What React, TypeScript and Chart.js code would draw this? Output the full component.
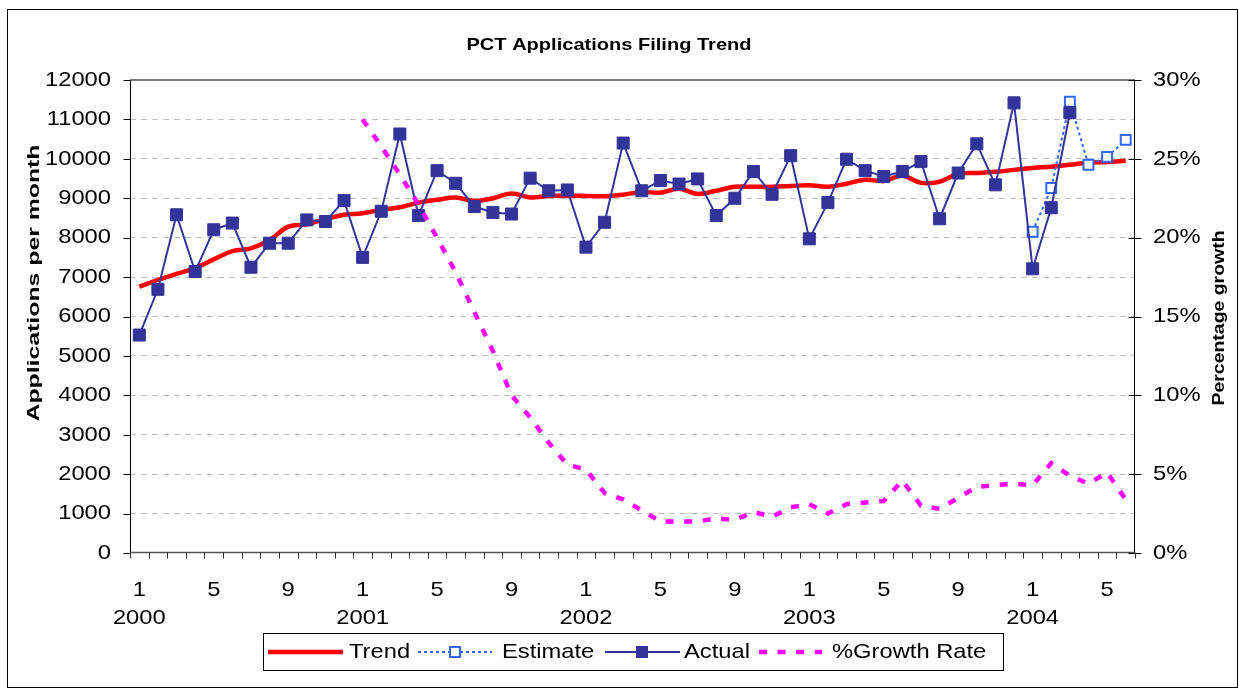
import React, { useEffect, useRef } from 'react';
import { Chart, registerables } from 'chart.js';

Chart.register(...registerables);

const W = 1239;
const H = 689;

const years = ['2000', '2001', '2002', '2003', '2004'];
const categories: string[] = [];
for (let y = 0; y < years.length; y++) {
  for (let m = 1; m <= 12; m++) {
    if (categories.length < 54) categories.push(`${years[y]}-${m}`);
  }
}

const trend = [
  6760, 6930, 7080, 7230, 7450, 7660, 7730, 7940, 8280, 8340, 8470, 8580,
  8620, 8710, 8770, 8890, 8960, 9020, 8930, 9000, 9120, 9020, 9060, 9060,
  9060, 9050, 9090, 9160, 9140, 9240, 9110, 9190, 9290, 9290, 9290, 9310,
  9330, 9290, 9370, 9470, 9440, 9570, 9390, 9420, 9620, 9640, 9670, 9720,
  9770, 9800, 9850, 9900, 9920, 9950,
];

const actual: (number | null)[] = [
  5530, 6690, 8580, 7140, 8200, 8370, 7250, 7860, 7860, 8450, 8410, 8940,
  7500, 8670, 10630, 8560, 9700, 9380, 8790, 8640, 8600, 9510, 9190, 9210,
  7760, 8390, 10400, 9190, 9450, 9360, 9490, 8560, 9000, 9680, 9100, 10080,
  7970, 8890, 9990, 9700, 9550, 9680, 9930, 8480, 9640, 10380, 9340, 11420,
  7210, 8760, 11170, null, null, null,
];

const estimate: (number | null)[] = [
  ...Array(48).fill(null),
  8150, 9260, 11450, 9850, 10050, 10480,
];

const growth: (number | null)[] = [
  ...Array(12).fill(null),
  27.5, 25.8, 24.0, 22.1, 20.0, 17.8, 15.3, 12.8, 10.0, 8.6, 7.0, 5.6,
  5.3, 3.8, 3.4, 2.7, 2.0, 2.0, 2.0, 2.2, 2.1, 2.6, 2.3, 2.9,
  3.1, 2.5, 3.1, 3.2, 3.3, 4.6, 3.0, 2.8, 3.5, 4.2, 4.3, 4.4,
  4.3, 5.7, 4.9, 4.4, 5.1, 3.4,
];

const leftTicks = [0, 1000, 2000, 3000, 4000, 5000, 6000, 7000, 8000, 9000, 10000, 11000, 12000];
const rightTicks = [0, 5, 10, 15, 20, 25, 30];
const shownMonths = [1, 5, 9];

const TITLE = 'PCT Applications Filing Trend';
const Y_TITLE = 'Applications per month';
const Y1_TITLE = 'Percentage growth';
const legendItems = ['Trend', 'Estimate', 'Actual', '%Growth Rate'];

const FONT = '"Liberation Sans", Arial, sans-serif';
const C_TREND = '#ff0000';
const C_EST = '#3366ff';
const C_ACT = '#333399';
const C_GROW = '#ff00ff';

function drawText(
  ctx: CanvasRenderingContext2D,
  s: string,
  x: number,
  y: number,
  font: string,
  sx: number,
  align: CanvasTextAlign,
  rot = 0,
) {
  ctx.save();
  ctx.translate(x, y);
  if (rot) ctx.rotate(rot);
  ctx.scale(sx, 1);
  ctx.font = font;
  ctx.textAlign = align;
  ctx.textBaseline = 'middle';
  ctx.fillStyle = '#000';
  ctx.fillText(s, 0, 0);
  ctx.restore();
}

function fitScale(ctx: CanvasRenderingContext2D, s: string, font: string, target: number) {
  ctx.save();
  ctx.font = font;
  const w = ctx.measureText(s).width;
  ctx.restore();
  return w > 0 ? target / w : 1;
}

function seg(ctx: CanvasRenderingContext2D, x1: number, y1: number, x2: number, y2: number) {
  ctx.beginPath();
  ctx.moveTo(x1, y1);
  ctx.lineTo(x2, y2);
  ctx.stroke();
}

const decorPlugin = {
  id: 'decor',
  afterDraw(chart: any) {
    const ctx: CanvasRenderingContext2D = chart.ctx;
    const { left, right, top, bottom } = chart.chartArea;
    const xs = chart.scales.x;
    const ys = chart.scales.y;
    const yr = chart.scales.y1;
    const L = Math.round(left) + 0.5;
    const R = Math.round(right) - 0.5;
    const B = Math.round(bottom) - 0.5;
    ctx.save();

    // outer frame
    ctx.strokeStyle = '#000';
    ctx.lineWidth = 1;
    ctx.strokeRect(7.5, 9.5, 1230, 678);

    // plot top border
    ctx.strokeStyle = '#808080';
    ctx.lineWidth = 2;
    seg(ctx, left, Math.round(top), right, Math.round(top));

    // axes
    ctx.strokeStyle = '#000';
    ctx.lineWidth = 1;
    seg(ctx, L, top, L, bottom);
    seg(ctx, R, top, R, bottom);
    ctx.strokeStyle = '#555';
    ctx.lineWidth = 1.5;
    seg(ctx, left, B, right, B);

    // tick marks
    ctx.strokeStyle = '#000';
    ctx.lineWidth = 1;
    leftTicks.forEach((v) => {
      const y = Math.round(ys.getPixelForValue(v)) + 0.5;
      seg(ctx, L - 7, y, L, y);
    });
    rightTicks.forEach((v) => {
      const y = Math.round(yr.getPixelForValue(v)) + 0.5;
      seg(ctx, R - 6, y, R + 7, y);
    });
    const step = xs.getPixelForValue(1) - xs.getPixelForValue(0);
    ctx.strokeStyle = '#333';
    for (let k = 0; k <= categories.length; k++) {
      const x = Math.round(xs.getPixelForValue(k) - step / 2) + 0.5;
      seg(ctx, x, B, x, B + 6);
    }

    // tick labels
    const tf = `21px ${FONT}`;
    const tsx = 1.13;
    leftTicks.forEach((v) => {
      drawText(ctx, String(v), 111, ys.getPixelForValue(v), tf, tsx, 'right');
    });
    rightTicks.forEach((v) => {
      drawText(ctx, `${v}%`, 1153, yr.getPixelForValue(v), tf, tsx, 'left');
    });
    categories.forEach((c, i) => {
      const [yy, mm] = c.split('-');
      const m = Number(mm);
      const x = xs.getPixelForValue(i);
      if (shownMonths.includes(m)) drawText(ctx, String(m), x, 590, tf, tsx, 'center');
      if (m === 1) drawText(ctx, yy, x, 618, tf, tsx, 'center');
    });

    // title
    const titleFont = `bold 17px ${FONT}`;
    drawText(ctx, TITLE, 609, 45, titleFont, fitScale(ctx, TITLE, titleFont, 285), 'center');

    // axis titles
    const atFont = `bold 16px ${FONT}`;
    drawText(ctx, Y_TITLE, 35, 283, atFont, fitScale(ctx, Y_TITLE, atFont, 277), 'center', -Math.PI / 2);
    drawText(ctx, Y1_TITLE, 1220, 318, atFont, fitScale(ctx, Y1_TITLE, atFont, 175), 'center', -Math.PI / 2);

    // legend
    ctx.strokeStyle = '#000';
    ctx.lineWidth = 1;
    ctx.strokeRect(263.5, 633.5, 740, 37);
    const ly = 652;
    // Trend
    ctx.strokeStyle = C_TREND;
    ctx.lineWidth = 4.5;
    seg(ctx, 268, ly, 343, ly);
    drawText(ctx, legendItems[0], 349, ly, tf, tsx, 'left');
    // Estimate
    ctx.strokeStyle = C_EST;
    ctx.lineWidth = 2;
    ctx.setLineDash([3, 3]);
    seg(ctx, 418, ly, 492, ly);
    ctx.setLineDash([]);
    ctx.fillStyle = '#fff';
    ctx.fillRect(450, ly - 5, 10, 10);
    ctx.strokeRect(450, ly - 5, 10, 10);
    drawText(ctx, legendItems[1], 502, ly, tf, tsx, 'left');
    // Actual
    ctx.strokeStyle = C_ACT;
    ctx.lineWidth = 2;
    seg(ctx, 605, ly, 680, ly);
    ctx.fillStyle = C_ACT;
    ctx.fillRect(636, ly - 6, 12, 12);
    drawText(ctx, legendItems[2], 684, ly, tf, tsx, 'left');
    // Growth
    ctx.strokeStyle = C_GROW;
    ctx.lineWidth = 4.5;
    ctx.setLineDash([8, 10.6]);
    seg(ctx, 759, ly, 822, ly);
    ctx.setLineDash([]);
    drawText(ctx, legendItems[3], 832, ly, tf, tsx, 'left');

    ctx.restore();
  },
};

export default function App() {
  const ref = useRef<HTMLCanvasElement | null>(null);

  useEffect(() => {
    if (!ref.current) return;
    const chart = new Chart(ref.current, {
      type: 'line',
      data: {
        labels: categories,
        datasets: [
          {
            label: '%Growth Rate',
            data: growth,
            yAxisID: 'y1',
            borderColor: C_GROW,
            backgroundColor: C_GROW,
            borderWidth: 4.5,
            borderDash: [8, 10.6],
            pointRadius: 0,
            tension: 0,
            order: 0,
          },
          {
            label: 'Actual',
            data: actual,
            yAxisID: 'y',
            borderColor: C_ACT,
            backgroundColor: C_ACT,
            borderWidth: 2,
            pointStyle: 'rect',
            pointRadius: 8.5,
            pointBorderWidth: 1,
            pointBorderColor: C_ACT,
            pointBackgroundColor: C_ACT,
            tension: 0,
            order: 1,
          },
          {
            label: 'Estimate',
            data: estimate,
            yAxisID: 'y',
            borderColor: C_EST,
            backgroundColor: '#ffffff',
            borderWidth: 2,
            borderDash: [3, 3],
            pointStyle: 'rect',
            pointRadius: 7,
            pointBorderWidth: 2,
            pointBorderColor: C_EST,
            pointBackgroundColor: '#ffffff',
            tension: 0,
            order: 2,
          },
          {
            label: 'Trend',
            data: trend,
            yAxisID: 'y',
            borderColor: C_TREND,
            backgroundColor: C_TREND,
            borderWidth: 4.5,
            pointRadius: 0,
            tension: 0.4,
            order: 3,
          },
        ],
      },
      options: {
        responsive: false,
        animation: false,
        devicePixelRatio: 1,
        layout: { padding: { left: 130, right: 104, top: 80, bottom: 136 } },
        plugins: {
          legend: { display: false },
          title: { display: false },
          tooltip: { enabled: false },
        },
        scales: {
          x: {
            type: 'category',
            offset: true,
            grid: { display: false, drawTicks: false },
            border: { display: false },
            ticks: { display: false },
          },
          y: {
            position: 'left',
            min: 0,
            max: 12000,
            ticks: { display: false, stepSize: 1000 },
            grid: {
              drawTicks: false,
              lineWidth: 1,
              color: (c: any) =>
                c.tick && (c.tick.value === 0 || c.tick.value === 12000) ? 'rgba(0,0,0,0)' : '#c0c0c0',
            },
            border: { display: false, dash: [6, 5] },
          },
          y1: {
            position: 'right',
            min: 0,
            max: 30,
            ticks: { display: false, stepSize: 5 },
            grid: { display: false, drawTicks: false },
            border: { display: false },
          },
        },
      },
      plugins: [decorPlugin],
    });
    return () => chart.destroy();
  }, []);

  return (
    <div style={{ position: 'fixed', left: 0, top: 0, width: W, height: H, background: '#fff' }}>
      <canvas ref={ref} width={W} height={H} style={{ display: 'block', width: W, height: H }} />
    </div>
  );
}
